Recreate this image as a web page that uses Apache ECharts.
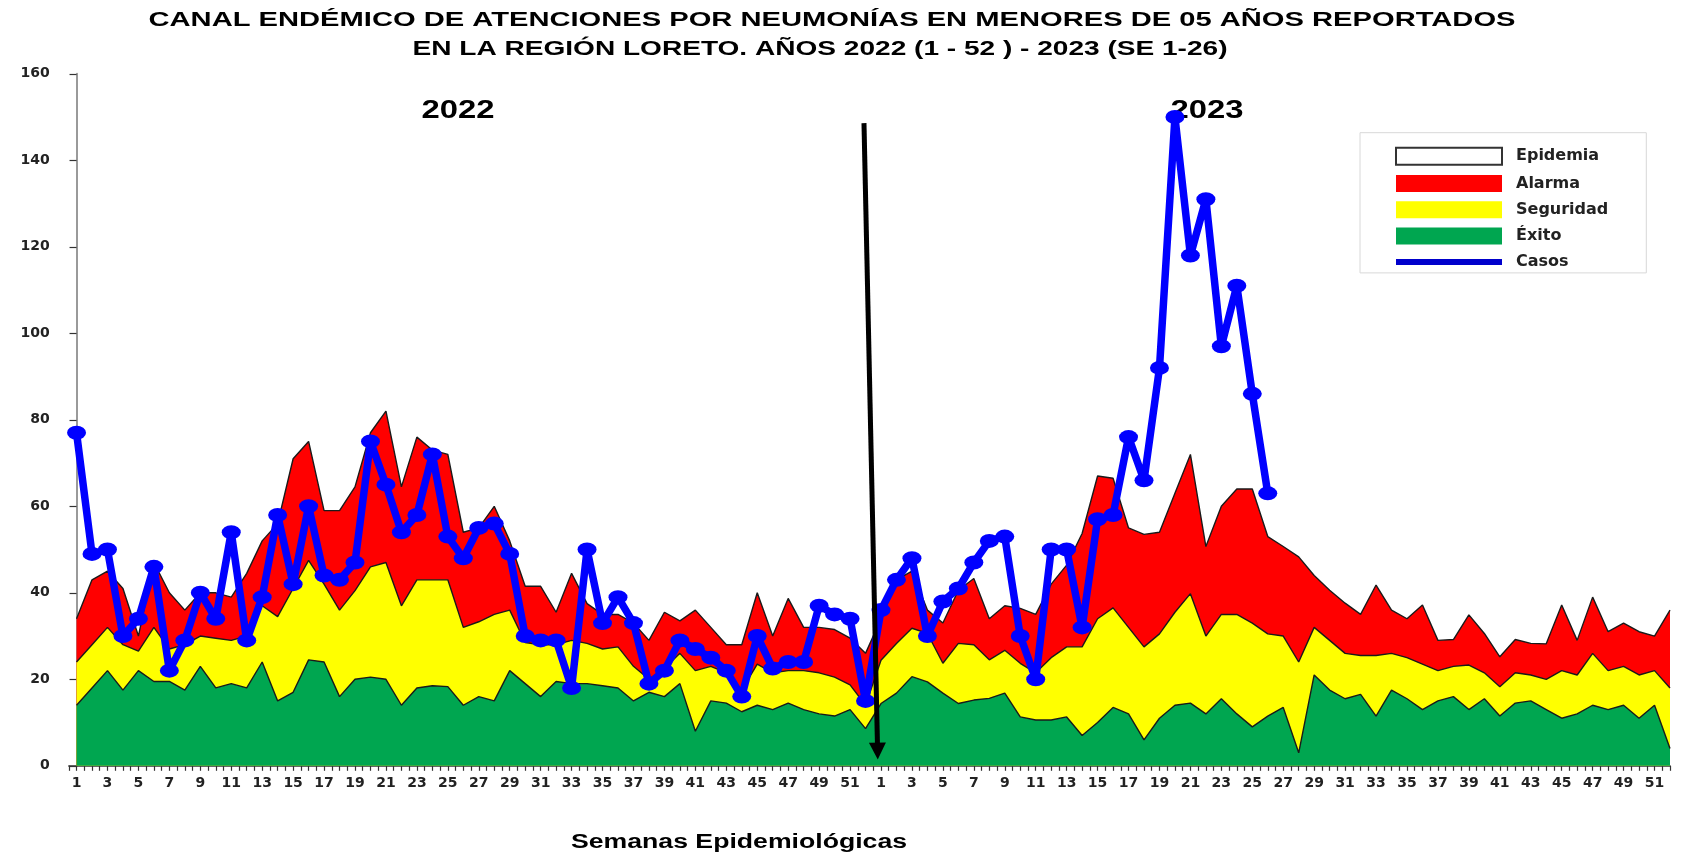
<!DOCTYPE html>
<html>
<head>
<meta charset="utf-8">
<script src="https://cdn.jsdelivr.net/npm/echarts/dist/echarts.min.js"></script>
<style>html,body{margin:0;padding:0;background:#fff}#c{width:1688px;height:854px}</style>
</head>
<body>
<div id="c"></div>
<script>
// ---- Data ----
const weeks = [1,2,3,4,5,6,7,8,9,10,11,12,13,14,15,16,17,18,19,20,21,22,23,24,25,26,27,28,29,30,31,32,33,34,35,36,37,38,39,40,41,42,43,44,45,46,47,48,49,50,51,52];

// upper limit of the "Éxito" band (green)
const exito2022 = [14,18,22,17.5,22,19.5,19.5,17.5,23,18,19,18,24,15,17,24.5,24,16,20,20.5,20,14,18,18.5,18.3,14,16,15,22,19,16,19.5,19,19,18.5,18,15,17,16,19,8,15,14.5,12.5,14,13,14.5,13,12,11.5,13,8.6];
const exito2023 = [14.4,16.8,20.6,19.4,16.8,14.4,15.2,15.6,16.8,11.3,10.6,10.6,11.3,7,10,13.5,12,6,11,14,14.5,12,15.5,12,9,11.5,13.5,3,21,17.5,15.5,16.5,11.5,17.5,15.5,13,15,16,13,15.5,11.5,14.5,15,13,11,12,14,13,14,11,14,4];

// upper limit of the "Seguridad" band (yellow)
const seguridad2022 = [24,28,32,28,26.5,32,27,28,30,29.5,29,30,37,34.5,41,47.5,42,36,40.5,46,47,37,43,43,43,32,33.3,35,36,28.5,28,28,29,28.3,27,27.5,23,20,22.5,26,22,23,21.5,17.5,23.5,21.5,22,22,21.5,20.5,18.7,14];
const seguridad2023 = [24.4,28.3,31.8,30.6,23.7,28.3,28,24.5,26.7,23.7,21.5,25,27.5,27.5,34,36.5,32,27.5,30.5,35.5,39.8,30,35,35,33,30.5,30,24,32,29,26,25.5,25.5,26,25,23.5,22,23,23.3,21.5,18.3,21.5,21,20,22,21,26,22,23,21,22,18];

// upper limit of the "Alarma" band (red)
const alarma2022 = [34,43,45,41,30,47,40,36,40,40,39,44.5,52,56,71,75,59,59,64.5,77,82,64.5,76,73,72,54,55,60,52,41.5,41.5,35.5,44.5,37.5,35,35,33,29,35.5,33.5,36,32,28,28,40,30,38.7,32,32,31.5,29.5,26];
const alarma2023 = [34,43,45,36,33,40.6,43.3,34,37,36.4,35,42,46.4,53.7,67,66.5,55,53.5,54,63,72,50.7,60,64,64,53,50.7,48.3,44,40.6,37.6,35,41.8,36,34,37.2,29,29.2,34.9,30.6,25.2,29.2,28.3,28.2,37.2,29,39,31,33,31,30,36];

// cases
const casos2022 = [77,49,50,30,34,46,22,29,40,34,54,29,39,58,42,60,44,43,47,75,65,54,58,72,53,48,55,56,49,30,29,29,18,50,33,39,33,19,22,29,27,25,22,16,30,22.5,24,24,37,35,34,15];
const casos2023 = [36,43,48,30,38,41,47,52,53,30,20,50,50,32,57,58,76,66,92,150,118,131,97,111,86,63];

const titleLines = ['CANAL ENDÉMICO DE ATENCIONES POR NEUMONÍAS EN MENORES DE 05 AÑOS REPORTADOS',
                    'EN LA REGIÓN LORETO. AÑOS 2022 (1 - 52 ) - 2023 (SE 1-26)'];
const yearLabels = ['2022', '2023'];
const xAxisTitle = 'Semanas Epidemiológicas';
const legendNames = ['Epidemia', 'Alarma', 'Seguridad', 'Éxito', 'Casos'];

// ---- Build ----
const weekLabels = weeks.concat(weeks);
const toPairs = arr => arr.map((v, i) => [i, v]);
const exito = exito2022.concat(exito2023);
const seguridad = seguridad2022.concat(seguridad2023);
const alarma = alarma2022.concat(alarma2023);
const casos = casos2022.concat(casos2023);

const measureCtx = document.createElement('canvas').getContext('2d');
function fitScale(text, font, target) {
  measureCtx.font = font;
  return target / measureCtx.measureText(text).width;
}
const TF = '"Liberation Sans", Arial, sans-serif';
function stretchedText(text, x, y, size, targetW, z) {
  const font = 'bold ' + size + 'px ' + TF;
  return {
    type: 'text', x: x, y: y, z: z || 10, silent: true,
    scaleX: fitScale(text, font, targetW),
    style: { text: text, fontFamily: TF, fontWeight: 'bold', fontSize: size, fill: '#000',
             align: 'center', verticalAlign: 'middle', textAlign: 'center', textVerticalAlign: 'middle' }
  };
}

const axisFont = { fontFamily: 'DejaVu Sans', fontWeight: 'bold', fontSize: 14, color: '#222' };

const areaSeries = (name, data, color) => ({
  name: name, type: 'line', data: toPairs(data), symbol: 'none', smooth: false,
  itemStyle: { color: color },
  lineStyle: { color: '#1a1a1a', width: 1.4 },
  areaStyle: { color: color, opacity: 1 },
  emphasis: { disabled: true }, silent: true
});

const option = {
  animation: false,
  backgroundColor: '#ffffff',
  grid: { left: 68.8, right: 18, top: 73.8, bottom: 88.2 },
  xAxis: {
    type: 'value', min: -0.5, max: 103, interval: 0.5,
    axisLine: { show: true, onZero: false, lineStyle: { color: '#333', width: 1.5 } },
    axisTick: { show: true, length: 5, lineStyle: { color: '#333', width: 1.2 } },
    axisLabel: Object.assign({
      margin: 11, showMinLabel: true, showMaxLabel: true,
      formatter: v => (Number.isInteger(v) && v % 2 === 0 && v >= 0) ? String(weekLabels[v]) : ''
    }, axisFont),
    splitLine: { show: false }
  },
  yAxis: {
    type: 'value', min: 0, max: 160, interval: 20,
    axisLine: { show: true, lineStyle: { color: '#9a9a9a', width: 2 } },
    axisTick: { show: true, length: 7, lineStyle: { color: '#333', width: 1.2 } },
    axisLabel: Object.assign({ margin: 19 }, axisFont),
    splitLine: { show: false }
  },
  legend: {
    orient: 'vertical', left: 1360, top: 132.7,
    itemWidth: 106, itemHeight: 17, itemGap: 9.3,
    padding: [14, 38, 3, 35],
    borderColor: '#d8d8d8', borderWidth: 1,
    selectedMode: false,
    textStyle: { fontFamily: 'DejaVu Sans', fontWeight: 'bold', fontSize: 16, color: '#222', padding: [0, 0, 0, 9] },
    data: [
      { name: legendNames[0], icon: 'rect', itemStyle: { color: '#ffffff', borderColor: '#333', borderWidth: 2 } },
      { name: legendNames[1], icon: 'rect', itemStyle: { color: '#ff0000', borderWidth: 0 } },
      { name: legendNames[2], icon: 'rect', itemStyle: { color: '#ffff00', borderWidth: 0 } },
      { name: legendNames[3], icon: 'rect', itemStyle: { color: '#00a650', borderWidth: 0 } },
      { name: legendNames[4], icon: 'path://M0,0L106,0L106,6L0,6Z', itemStyle: { color: '#0000cc', borderWidth: 0 } }
    ]
  },
  graphic: [
    stretchedText(titleLines[0], 832, 20, 20, 1367),
    stretchedText(titleLines[1], 820, 49, 20, 815),
    stretchedText(yearLabels[0], 458, 111, 25, 73, 1),
    stretchedText(yearLabels[1], 1207, 111, 25, 73, 1),
    stretchedText(xAxisTitle, 739, 843, 19.5, 336)
  ],
  series: [
    { name: legendNames[0], type: 'line', data: [], itemStyle: { color: '#ffffff' }, symbol: 'none' },
    areaSeries(legendNames[1], alarma, '#ff0000'),
    areaSeries(legendNames[2], seguridad, '#ffff00'),
    areaSeries(legendNames[3], exito, '#00a650'),
    {
      name: legendNames[4], type: 'line', data: toPairs(casos),
      symbol: 'circle', symbolSize: [19, 14],
      itemStyle: { color: '#0000ff' },
      lineStyle: { color: '#0000ff', width: 7.5 },
      emphasis: { disabled: true }, silent: true,
      markLine: {
        silent: true, symbol: ['none', 'triangle'], symbolSize: 17,
        lineStyle: { color: '#000', width: 5, type: 'solid' },
        label: { show: false },
        data: [[{ coord: [50.9, 148.6] }, { coord: [51.78, 3.4] }]]
      }
    }
  ]
};

const chart = echarts.init(document.getElementById('c'), null, { renderer: 'canvas' });
chart.setOption(option);
</script>
</body>
</html>
